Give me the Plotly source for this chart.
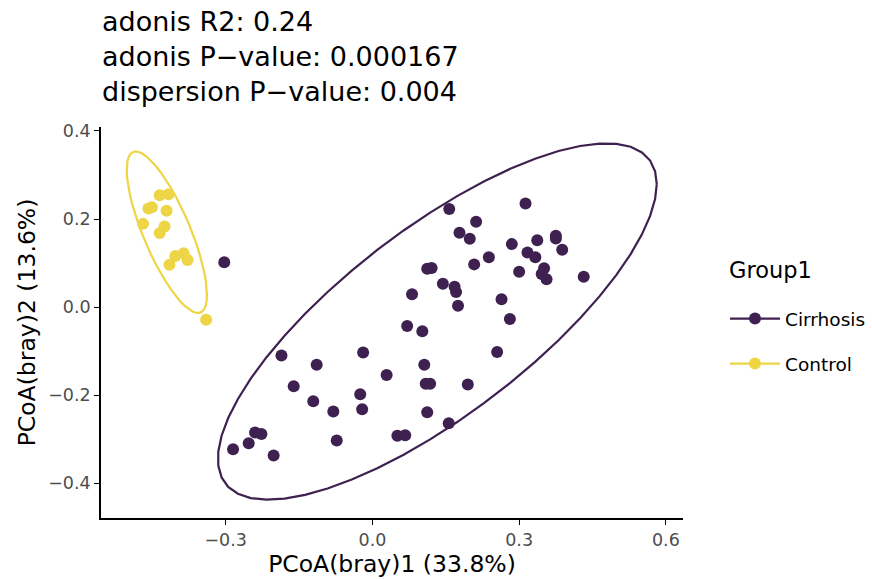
import numpy as np
import plotly.graph_objects as go

# ---------------- data ----------------
groups = ["Cirrhosis", "Control"]
group_colors = ["#3f2151", "#eed545"]

cirrhosis_x = [-0.303, -0.186, -0.019, -0.114, 0.029, -0.161, -0.025, -0.121, -0.080, -0.021,
               -0.240, -0.227, -0.253, -0.285, -0.202, -0.073, 0.051, 0.067, 0.157, 0.313,
               0.212, 0.178, 0.199, 0.285, 0.337, 0.375, 0.375, 0.388, 0.317, 0.333,
               0.238, 0.208, 0.112, 0.121, 0.300, 0.351, 0.346, 0.356, 0.432, 0.144,
               0.168, 0.171, 0.081, 0.175, 0.264, 0.281, 0.071, 0.102, 0.255, 0.106,
               0.109, 0.118, 0.195, 0.112, 0.156]
cirrhosis_y = [0.102, -0.110, -0.103, -0.131, -0.154, -0.180, -0.198, -0.214, -0.237, -0.232,
               -0.285, -0.288, -0.309, -0.323, -0.337, -0.303, -0.292, -0.291, 0.223, 0.235,
               0.194, 0.169, 0.155, 0.143, 0.152, 0.162, 0.156, 0.130, 0.124, 0.113,
               0.113, 0.097, 0.087, 0.089, 0.080, 0.088, 0.075, 0.063, 0.069, 0.053,
               0.046, 0.034, 0.029, 0.003, 0.018, -0.027, -0.043, -0.055, -0.102, -0.131,
               -0.174, -0.174, -0.176, -0.239, -0.264]

control_x = [-0.435, -0.417, -0.458, -0.451, -0.421, -0.469, -0.425, -0.435, -0.403, -0.386,
             -0.378, -0.415, -0.340]
control_y = [0.254, 0.256, 0.224, 0.227, 0.219, 0.189, 0.183, 0.168, 0.116, 0.122,
             0.107, 0.096, -0.029]

x_ticks = [-0.3, 0.0, 0.3, 0.6]
y_ticks = [-0.4, -0.2, 0.0, 0.2, 0.4]

title_lines = ["adonis R2: 0.24", "adonis P\u2212value: 0.000167", "dispersion P\u2212value: 0.004"]
x_title = "PCoA(bray)1 (33.8%)"
y_title = "PCoA(bray)2 (13.6%)"
legend_title = "Group1"


# ---------------- stat_ellipse(type = "t", level = 0.95) ----------------
def cov_trob(X, nu=5, maxit=25, tol=0.01):
    n, p = X.shape
    wt = np.ones(n)
    loc = X.mean(axis=0)
    w = np.ones(n)
    Xc = X - loc
    for _ in range(maxit):
        w0 = w.copy()
        Xc = X - loc
        A = np.sqrt(w / w.sum())[:, None] * Xc
        _, d, Vt = np.linalg.svd(A, full_matrices=False)
        wX = Xc @ Vt.T @ np.diag(1.0 / d)
        Q = (wX ** 2).sum(axis=1)
        w = (wt * (nu + p)) / (nu + Q)
        loc = (w[:, None] * X).sum(axis=0) / w.sum()
        if np.all(np.abs(w - w0) < tol):
            break
    cov = (np.sqrt(w)[:, None] * Xc).T @ (np.sqrt(w)[:, None] * Xc) / wt.sum()
    return loc, cov


def ellipse(xs, ys, level=0.95, segments=51):
    X = np.column_stack([xs, ys]).astype(float)
    n = X.shape[0]
    center, cov = cov_trob(X)
    dfd = n - 1
    qf = dfd / 2.0 * ((1 - level) ** (-2.0 / dfd) - 1)  # F quantile, dfn = 2
    radius = np.sqrt(2 * qf)
    U = np.linalg.cholesky(cov).T
    th = np.linspace(0, 2 * np.pi, segments + 1)
    circ = np.column_stack([np.cos(th), np.sin(th)])
    e = center + radius * circ @ U
    return e[:, 0], e[:, 1]


data = {
    "Cirrhosis": (cirrhosis_x, cirrhosis_y),
    "Control": (control_x, control_y),
}

fig = go.Figure()
FONT = "DejaVu Sans"

for g, col in zip(groups, group_colors):
    xs, ys = data[g]
    ex, ey = ellipse(xs, ys)
    fig.add_trace(go.Scatter(x=ex, y=ey, mode="lines", line=dict(color=col, width=2.2),
                             showlegend=False, hoverinfo="skip"))
for g, col in zip(groups, group_colors):
    xs, ys = data[g]
    fig.add_trace(go.Scatter(x=xs, y=ys, mode="markers", name=g,
                             marker=dict(color=col, size=12, line=dict(width=0)),
                             showlegend=False))
# legend keys (line + point, as in ggplot)
for g, col in zip(groups, group_colors):
    fig.add_trace(go.Scatter(x=[None], y=[None], mode="lines+markers", name=g,
                             legendgroup=g,
                             line=dict(color=col, width=2.2),
                             marker=dict(color=col, size=12)))

axis_common = dict(showgrid=False, zeroline=False, showline=True, linecolor="black",
                   linewidth=1.6, ticks="outside", ticklen=5, tickcolor="black",
                   tickwidth=1.4, tickfont=dict(family=FONT, size=17.5, color="#4d4d4d"),
                   tickformat=".1f", mirror=False, automargin=False)

FW, FH = 872, 579
PLOT_L, PLOT_R, PLOT_T, PLOT_B = 101, 683, 127, 518
H = PLOT_B - PLOT_T
W = PLOT_R - PLOT_L

fig.update_layout(
    width=FW, height=FH,
    paper_bgcolor="white", plot_bgcolor="white",
    margin=dict(l=PLOT_L, r=FW - PLOT_R, t=PLOT_T, b=FH - PLOT_B, autoexpand=False),
    font=dict(family=FONT, color="black"),
    xaxis=dict(range=[-0.555, 0.635], tickvals=x_ticks,
               title=dict(text=x_title, font=dict(family=FONT, size=23.5, color="black"),
                          standoff=2),
               **axis_common),
    yaxis=dict(range=[-0.479, 0.409], tickvals=y_ticks,
               title=dict(text=y_title, font=dict(family=FONT, size=23.5, color="black"),
                          standoff=6),
               **axis_common),
    legend=dict(xref="container", yref="container",
                x=725 / FW, xanchor="left", y=1 - 300 / FH, yanchor="top",
                font=dict(family=FONT, size=18.5, color="black"),
                itemwidth=50, tracegroupgap=18, bgcolor="rgba(0,0,0,0)"),
    annotations=[
        dict(text="<br>".join(title_lines), xref="paper", yref="paper",
             x=-1 / W, y=(PLOT_B - 4) / H, xanchor="left", yanchor="top", align="left",
             showarrow=False, font=dict(family=FONT, size=27, color="black")),
        dict(text=legend_title, xref="paper", yref="paper",
             x=(727 - PLOT_L) / W, y=(PLOT_B - 270) / H, xanchor="left", yanchor="middle",
             showarrow=False, font=dict(family=FONT, size=22.5, color="black")),
    ],
)

fig.write_html("out.html", config={"displayModeBar": False},
               post_script="document.body.style.margin='0px';")
